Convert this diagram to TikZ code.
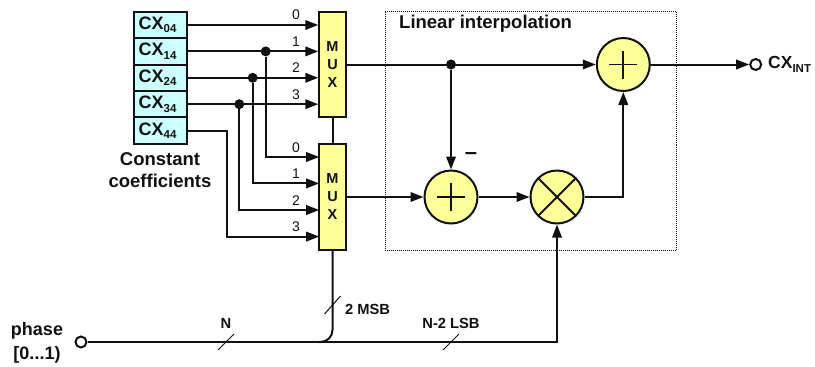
\documentclass[tikz,border=0pt]{standalone}
\usepackage{fontspec}
\setmainfont{Liberation Sans}
\usetikzlibrary{arrows.meta,calc}
\definecolor{cyanbox}{HTML}{CCFFFF}
\definecolor{yel}{HTML}{FFFF99}
\definecolor{ink}{HTML}{111111}
\tikzset{
  x=1pt,y=-1pt,
  wire/.style={draw=ink,line width=2pt},
  arr/.style={wire,-{Triangle[length=13pt,width=9.5pt]}},
  coef/.style={draw=ink,line width=2pt,fill=cyanbox,minimum width=53pt,minimum height=26.4pt,inner sep=0pt,font=\bfseries\fontsize{18}{18}\selectfont,text=ink,anchor=center},
  muxbox/.style={draw=ink,line width=2pt,fill=yel,minimum width=26.5pt,minimum height=105.5pt,inner sep=0pt,align=center,font=\bfseries\fontsize{14.5}{18}\selectfont,text=ink},
  opc/.style={circle,draw=ink,line width=2pt,fill=yel,minimum size=53pt,inner sep=0pt},
  port/.style={circle,draw=ink,line width=2pt,fill=white,minimum size=11pt,inner sep=0pt},
  dot/.style={circle,fill=ink,minimum size=10pt,inner sep=0pt},
  idx/.style={font=\fontsize{14}{14}\selectfont,text=ink,inner sep=0pt},
  lab/.style={font=\bfseries\fontsize{14.7}{15}\selectfont,text=ink,inner sep=0pt},
  big/.style={font=\bfseries\fontsize{18.5}{22}\selectfont,text=ink,inner sep=0pt,align=center},
  slash/.style={draw=ink,line width=1pt},
  cross/.style={draw=ink,line width=1.8pt},
}
\newcommand{\sbx}[1]{\raisebox{-3.5pt}{\fontsize{11.5}{12}\selectfont #1}}
\newcommand{\cxl}[1]{CX\sbx{#1}\hspace*{6pt}}
\begin{document}
\begin{tikzpicture}
\useasboundingbox (0,0) rectangle (815,367);
\draw[ink,line width=1pt,densely dotted] (385,11.5) rectangle (676,250);
\node[big,anchor=west,font=\bfseries\fontsize{18.5}{20}\selectfont] (ttl) at (399,24) {Linear interpolation};
% coefficient boxes
\node[coef] (c0) at (160.5,25) {\cxl{04}};
\node[coef] (c1) at (160.5,51.4) {\cxl{14}};
\node[coef] (c2) at (160.5,77.8) {\cxl{24}};
\node[coef] (c3) at (160.5,104.2) {\cxl{34}};
\node[coef] (c4) at (160.5,130.6) {\cxl{44}};
\node[big] (cc) at (160,170) {Constant\\coefficients};
% muxes
\node[muxbox] (m1) at (332.5,64.5) {M\\U\\X};
\node[muxbox] (m2) at (332.5,197) {M\\U\\X};
% operators
\node[opc] (addt) at (623.3,64.5) {};
\node[opc] (adds) at (451,197) {};
\node[opc] (mult) at (557,197) {};
\draw[cross] ($(addt)+(-14,0)$) -- ($(addt)+(14,0)$) ($(addt)+(0,-14)$) -- ($(addt)+(0,14)$);
\draw[cross] ($(adds)+(-14,0)$) -- ($(adds)+(14,0)$) ($(adds)+(0,-14)$) -- ($(adds)+(0,14)$);
\draw[cross] ($(mult)+(-18.7,-18.7)$) -- ($(mult)+(18.7,18.7)$) ($(mult)+(-18.7,18.7)$) -- ($(mult)+(18.7,-18.7)$);
% ports and junctions
\node[port] (out) at (755.7,64.5) {};
\node[port] (ph) at (81,342) {};
\node[dot] (j1) at (265.7,51.4) {};
\node[dot] (j2) at (252.7,77.8) {};
\node[dot] (j3) at (239.3,104.2) {};
\node[dot] (j4) at (451,64.5) {};
% coordinates on mux sides
\coordinate (i10) at (m1.west |- c0);
\coordinate (i11) at (m1.west |- c1);
\coordinate (i12) at (m1.west |- c2);
\coordinate (i13) at (m1.west |- c3);
\coordinate (i20) at (319.2,157);
\coordinate (i21) at (319.2,183.4);
\coordinate (i22) at (319.2,210);
\coordinate (i23) at (319.2,236.6);
% inputs
\draw[arr] (c0.east) -- (i10);
\draw[arr] (c1.east) -- (i11);
\draw[arr] (c2.east) -- (i12);
\draw[arr] (c3.east) -- (i13);
\draw[arr] (j1) |- (i20);
\draw[arr] (j2) |- (i21);
\draw[arr] (j3) |- (i22);
\draw[arr] (c4.east) -| (226.7,236.6) -- (i23);
\draw[wire] (m1.south) -- (m2.north);
% datapath
\draw[arr] (m1.east) -- (addt.west);
\draw[arr] (j4) -- (adds.north);
\draw[arr] (m2.east) -- (adds.west);
\draw[arr] (adds.east) -- (mult.west);
\draw[arr] (mult.east) -| (addt.south);
\draw[arr] (addt.east) -- (out.west);
\draw[arr] (ph.east) -- (557,342) -- (mult.south);
\draw[wire,rounded corners=12pt] (m2.south) -- (332.5,342) -- (319,342);
% bus slashes
\coordinate (s1) at (226,342);
\coordinate (s2) at (451,342);
\coordinate (s3) at (332.5,305);
\draw[slash] ($(s1)+(-8,8)$) -- ($(s1)+(8,-8)$);
\draw[slash] ($(s2)+(-8,8)$) -- ($(s2)+(8,-8)$);
\draw[slash] ($(s3)+(-8,9)$) -- ($(s3)+(8,-9)$);
% labels
\foreach \t/\nm/\y in {0/a/15,1/b/41.5,2/c/68,3/d/94.5,0/e/148,1/f/174,2/g/201,3/h/227}
  \node[idx] (l\nm) at (296,\y) {\t};
\node[big,font=\bfseries\fontsize{22}{22}\selectfont] (minus) at (471,156) {–};
\node[big,anchor=west,font=\bfseries\fontsize{17.5}{18}\selectfont] (cxo) at (768,64.5) {CX\sbx{INT}};
\node[lab] (ln) at (226,323) {N};
\node[lab] (ll) at (451,323) {N-2 LSB};
\node[lab,anchor=west] (lm) at (345,309) {2 MSB};
\node[big,font=\bfseries\fontsize{18}{24}\selectfont] (phl) at (37,343) {phase\\{[0...1)}};
\end{tikzpicture}
\end{document}
